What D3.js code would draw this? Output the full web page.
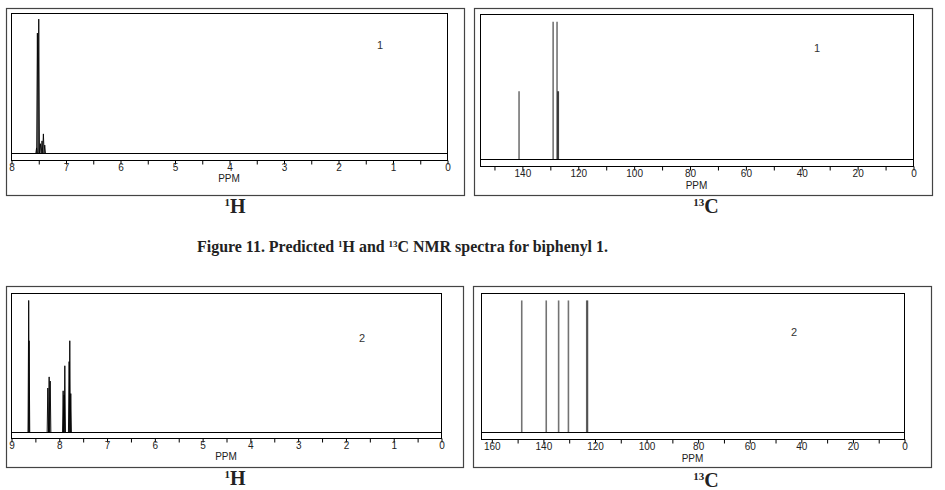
<!DOCTYPE html>
<html>
<head>
<meta charset="utf-8">
<script src="https://cdn.jsdelivr.net/npm/d3@7/dist/d3.min.js"></script>
<style>
  body { margin: 0; background: #fff; }
  svg { display: block; }
  .axis text { font-family: "Liberation Sans", Arial, sans-serif; font-size: 10px; fill: #222; }
  .axis path, .axis line { stroke: #000; }
</style>
</head>
<body>
<div id="chart"></div>
<script>
// peak lists (ppm, relative height)
const h1PpmA = [7.54, 7.525, 7.50, 7.47, 7.44, 7.415, 7.39];
const h1IntA = [0.04, 0.86, 0.96, 0.07, 0.09, 0.14, 0.06];
const c13PpmA = [141.2, 129.0, 127.6, 127.25, 127.15];
const c13IntA = [0.47, 0.95, 0.95, 0.47, 0.47];

const h1PpmB = [8.64, 8.632, 8.24, 8.212, 8.19, 7.919, 7.898, 7.884, 7.794, 7.78, 7.759];
const h1IntB = [0.95, 0.66, 0.32, 0.40, 0.37, 0.30, 0.27, 0.48, 0.51, 0.66, 0.28];
const c13PpmB = [148.4, 138.9, 134.1, 130.3, 123.2, 122.9];
const c13IntB = [0.95, 0.95, 0.95, 0.95, 0.95, 0.95];

const compoundLabels = ["1", "1", "2", "2"];
const nucleusLabels = [["1", "H"], ["13", "C"], ["1", "H"], ["13", "C"]];

const W = 945, H = 490;
const svg = d3.select("#chart").append("svg")
  .attr("width", W)
  .attr("height", H);

// layout of the four boxes
const panels = [
  { box: [6, 8, 464, 195], plot: [11, 13, 447, 160], base: 153, dom: [8, 0], step: 0.5, major: 1,
    ppm: h1PpmA, amp: h1IntA, kind: "h", lab: [380, 49], nuc: [235, 213] },
  { box: [474, 8, 932, 195], plot: [480, 14, 913, 166], base: 159, dom: [155, 0], step: 10, major: 20,
    ppm: c13PpmA, amp: c13IntA, kind: "c", lab: [817, 52], nuc: [706, 213] },
  { box: [6, 286, 463, 467], plot: [11, 293, 441, 438], base: 432, dom: [9, 0], step: 0.5, major: 1,
    ppm: h1PpmB, amp: h1IntB, kind: "h", lab: [362, 342], nuc: [235, 485] },
  { box: [473, 286, 931, 467], plot: [481, 293, 904, 439], base: 432, dom: [164, 0], step: 10, major: 20,
    ppm: c13PpmB, amp: c13IntB, kind: "c", lab: [794, 336], nuc: [706, 487] }
];

panels.forEach(function(p, i) {
  const g = svg.append("g");
  const [bx0, by0, bx1, by1] = p.box;
  const [px0, py0, px1, py1] = p.plot;

  // outer frame
  g.append("rect")
    .attr("x", bx0 + 0.5).attr("y", by0 + 0.5)
    .attr("width", bx1 - bx0).attr("height", by1 - by0)
    .attr("fill", "none").attr("stroke", "#444").attr("stroke-width", 1.2);

  // inner plot frame
  g.append("rect")
    .attr("x", px0 + 0.5).attr("y", py0 + 0.5)
    .attr("width", px1 - px0).attr("height", py1 - py0)
    .attr("fill", "none").attr("stroke", "#000");

  const x = d3.scaleLinear().domain(p.dom).range([px0 + 0.5, px1 + 0.5]);
  const y = d3.scaleLinear().domain([0, 1]).range([p.base + 0.5, py0 + 0.5]);

  // axis along the bottom of the plot frame
  const tv = d3.range(p.dom[1], p.dom[0] + p.step / 2, p.step);
  const axis = d3.axisBottom(x)
    .tickValues(tv)
    .tickSize(4)
    .tickPadding(-1)
    .tickFormat(function(d) {
      return Math.abs(d / p.major - Math.round(d / p.major)) < 1e-6 ? d3.format("d")(d) : "";
    });
  g.append("g")
    .attr("class", "axis")
    .attr("transform", "translate(0," + (py1 + 0.5) + ")")
    .call(axis)
    .call(function(a) { a.select(".domain").remove(); });

  g.append("text")
    .attr("x", (px0 + px1) / 2)
    .attr("y", py1 + (p.kind == "h" ? 22 : 23))
    .attr("text-anchor", "middle")
    .style("font-family", "Liberation Sans, Arial, sans-serif")
    .style("font-size", "10px")
    .style("fill", "#222")
    .text("PPM");

  // baseline
  g.append("line")
    .attr("x1", px0).attr("x2", px1 + 1)
    .attr("y1", y(0)).attr("y2", y(0))
    .attr("stroke", "#000");

  const peaks = p.ppm.map(function(d, k) { return { ppm: d, h: p.amp[k] }; });

  if (p.kind == "h") {
    // 1H: narrow spikes with a small foot
    const w = 0.014;
    const line = d3.line().x(function(d) { return x(d[0]); }).y(function(d) { return y(d[1]); });
    g.selectAll(".pk").data(peaks).enter().append("path")
      .attr("class", "pk")
      .attr("d", function(d) { return line([[d.ppm + w, 0], [d.ppm, d.h], [d.ppm - w, 0]]); })
      .attr("fill", "none")
      .attr("stroke", "#000")
      .attr("stroke-width", 0.9);
  } else {
    // 13C: stick lines
    g.selectAll(".pk").data(peaks).enter().append("line")
      .attr("class", "pk")
      .attr("x1", function(d) { return x(d.ppm); })
      .attr("x2", function(d) { return x(d.ppm); })
      .attr("y1", y(0))
      .attr("y2", function(d) { return y(d.h); })
      .attr("stroke", "#000")
      .attr("stroke-opacity", 0.55)
      .attr("stroke-width", 1.6);
  }

  // compound number
  g.append("text")
    .attr("x", p.lab[0]).attr("y", p.lab[1])
    .attr("text-anchor", "middle")
    .style("font-family", "Liberation Sans, Arial, sans-serif")
    .style("font-size", "11px")
    .style("fill", "#333")
    .text(compoundLabels[i]);

  // nucleus label under the box
  const t = g.append("text")
    .attr("x", p.nuc[0]).attr("y", p.nuc[1])
    .attr("text-anchor", "middle")
    .style("font-family", "Liberation Serif, Times New Roman, serif")
    .style("font-weight", "bold")
    .style("fill", "#222");
  t.append("tspan").attr("dy", -7).style("font-size", "11px").text(nucleusLabels[i][0]);
  t.append("tspan").attr("dy", 7).style("font-size", "20px").text(nucleusLabels[i][1]);
});

// caption
const cap = svg.append("text")
  .attr("x", 197).attr("y", 252)
  .attr("textLength", 411)
  .attr("lengthAdjust", "spacingAndGlyphs")
  .style("font-family", "Liberation Serif, Times New Roman, serif")
  .style("font-weight", "bold")
  .style("font-size", "16px")
  .style("fill", "#222");
cap.append("tspan").text("Figure 11. Predicted ");
cap.append("tspan").attr("dy", -5).style("font-size", "9px").text("1");
cap.append("tspan").attr("dy", 5).text("H and ");
cap.append("tspan").attr("dy", -5).style("font-size", "9px").text("13");
cap.append("tspan").attr("dy", 5).text("C NMR spectra for biphenyl 1.");
</script>
</body>
</html>
